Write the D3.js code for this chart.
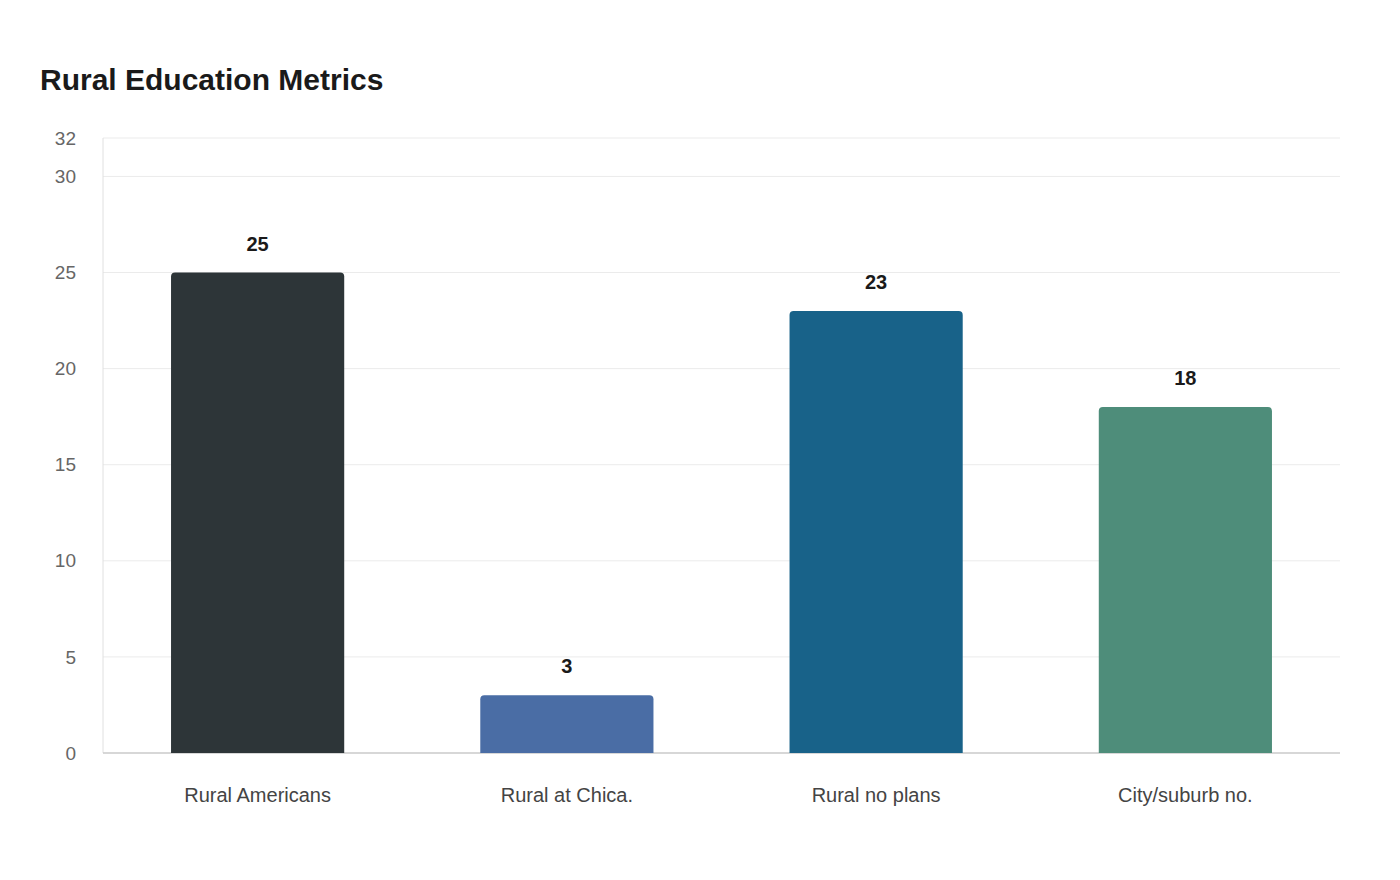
<!DOCTYPE html><html><head><meta charset="utf-8">
<script src="https://cdn.jsdelivr.net/npm/d3@7"></script>
<style>body{margin:0;background:#fff;font-family:"Liberation Sans",Arial,sans-serif}</style></head><body>
<svg id="c" width="1400" height="880"></svg>
<script>
const categories=["Rural Americans","Rural at Chica.","Rural no plans","City/suburb no."];
const values=[25,3,23,18];
const colors=["#2d3538","#4a6da5","#186289","#4e8d7a"];
const yTicks=[0,5,10,15,20,25,30,32];
const svg=d3.select("#c");
const L=103,R=1340,T=138,B=753;
const x=d3.scaleBand().domain(categories).range([L,R]).paddingInner(0.44).paddingOuter(0.22);
const y=d3.scaleLinear().domain([0,32]).range([B,T]);
svg.append("text").attr("x",40).attr("y",90).attr("font-size",30).attr("font-weight","bold").attr("fill","#1a1a1a").text("Rural Education Metrics");
svg.append("g").selectAll("line").data(yTicks).join("line").attr("x1",L).attr("x2",R).attr("y1",d=>y(d)).attr("y2",d=>y(d)).attr("stroke","#ebebeb");
svg.append("line").attr("x1",L).attr("x2",L).attr("y1",T).attr("y2",B).attr("stroke","#e0e0e0");
svg.append("line").attr("x1",L).attr("x2",R).attr("y1",B).attr("y2",B).attr("stroke","#ccc").attr("stroke-width",1.5);
svg.append("g").selectAll("text").data(yTicks).join("text").attr("x",76).attr("y",d=>y(d)).attr("dy","0.35em").attr("text-anchor","end").attr("font-size",19).attr("fill","#666").text(d=>d);
const r=4;
svg.append("g").selectAll("path").data(values).join("path").attr("fill",(d,i)=>colors[i]).attr("d",(d,i)=>{
 const x0=x(categories[i]),w=x.bandwidth(),y0=y(d);
 return `M${x0},${B}V${y0+r}Q${x0},${y0} ${x0+r},${y0}H${x0+w-r}Q${x0+w},${y0} ${x0+w},${y0+r}V${B}Z`;});
svg.append("g").selectAll("text").data(values).join("text").attr("x",(d,i)=>x(categories[i])+x.bandwidth()/2).attr("y",d=>y(d)-22).attr("text-anchor","middle").attr("font-size",20).attr("font-weight","bold").attr("fill","#1a1a1a").text(d=>d);
svg.append("g").selectAll("text").data(categories).join("text").attr("x",d=>x(d)+x.bandwidth()/2).attr("y",802).attr("text-anchor","middle").attr("font-size",20).attr("fill","#444").text(d=>d);
</script></body></html>
